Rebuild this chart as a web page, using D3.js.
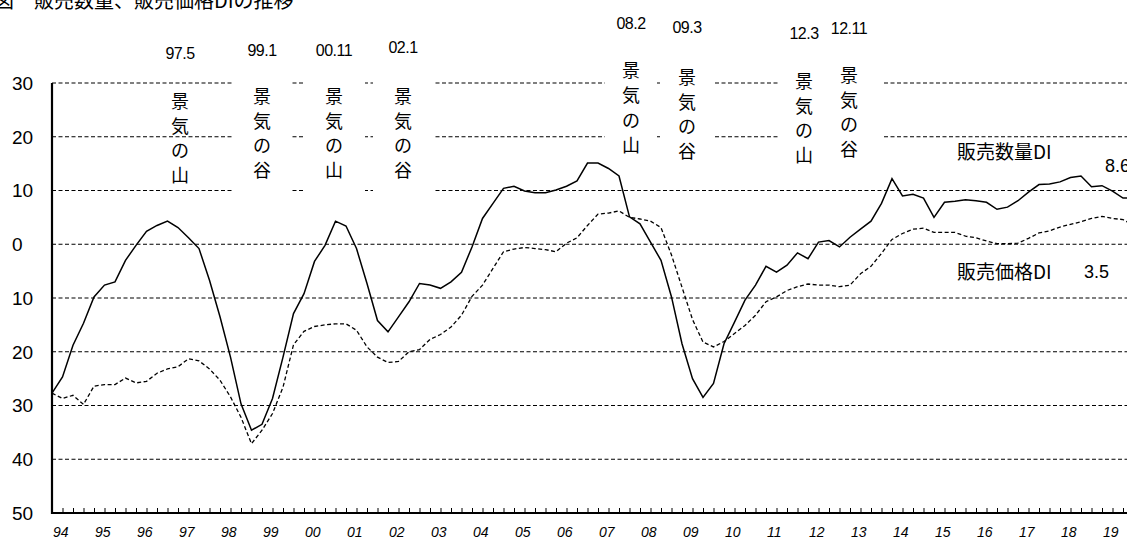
<!DOCTYPE html>
<html>
<head>
<meta charset="utf-8">
<script src="https://cdn.jsdelivr.net/npm/d3@7/dist/d3.min.js"></script>
<style>
  body { margin: 0; background: #fff; }
  svg { display: block; font-family: "Liberation Sans", Arial, sans-serif; }
  .jp { font-family: "Noto Sans CJK JP", sans-serif; }
</style>
</head>
<body>
<div id="chart"></div>
<script>
// quarterly data, 1994Q1 - 2019Q4
var years = ["94","95","96","97","98","99","00","01","02","03","04","05","06",
             "07","08","09","10","11","12","13","14","15","16","17","18","19"];

var qtyDI = [-27.7,-24.7,-18.8,-14.7, -9.8,-7.6,-7.0,-3.0, -0.2,2.4,3.5,4.3, 3.1,1.2,-0.8,-6.7,
             -13.5,-21.0,-29.7,-34.6, -33.5,-28.7,-21.0,-12.9, -9.2,-3.2,-0.2,4.3, 3.4,-0.8,-7.3,-14.2,
             -16.3,-13.5,-10.7,-7.3, -7.6,-8.2,-7.0,-5.2, -0.5,4.8,7.6,10.4, 10.8,9.9,9.6,9.6,
             10.1,10.8,11.8,15.1, 15.1,14.1,12.7,5.1, 3.8,0.4,-3.0,-9.8, -18.5,-25.0,-28.5,-25.9,
             -18.5,-14.5,-10.4,-7.6, -4.1,-5.2,-3.9,-1.6, -2.7,0.4,0.7,-0.5, 1.3,2.8,4.3,7.6,
             12.2,9.0,9.3,8.6, 5.0,7.8,8.0,8.3, 8.1,7.8,6.5,6.9, 8.1,9.7,11.1,11.2,
             11.6,12.4,12.7,10.7, 10.9,9.9,8.6,8.6];

var priceDI = [-27.7,-28.7,-28.1,-29.8, -26.4,-26.1,-26.1,-24.9, -25.8,-25.5,-24.0,-23.2, -22.8,-21.3,-21.7,-23.2,
               -25.3,-28.4,-32.2,-37.1, -34.6,-31.5,-26.6,-18.7, -16.2,-15.3,-15.0,-14.8, -14.8,-16.0,-19.1,-21.0,
               -22.0,-21.8,-20.0,-19.6, -17.7,-16.8,-15.4,-13.2, -9.7,-7.6,-4.5,-1.4, -0.9,-0.6,-0.8,-1.0,
               -1.4,0.2,1.2,3.5, 5.6,5.8,6.2,5.0, 4.7,4.3,3.1,-2.0, -8.0,-14.0,-18.2,-19.1,
               -18.1,-16.6,-15.1,-13.2, -10.7,-9.8,-8.6,-7.9, -7.4,-7.6,-7.6,-7.9, -7.6,-5.5,-4.1,-1.7,
               0.9,2.0,2.8,3.0, 2.2,2.2,2.2,1.5, 1.2,0.6,0.1,0.1, 0.2,1.1,2.1,2.5,
               3.2,3.7,4.2,4.8, 5.2,4.8,4.6,3.5];

var yTicks = [30, 20, 10, 0, -10, -20, -30, -40, -50];
var yTickLabels = ["30","20","10","0","10","20","30","40","50"];

var cycleDates = ["97.5","99.1","00.11","02.1","08.2","09.3","12.3","12.11"];
var cycleTypes = ["山","谷","山","谷","山","谷","山","谷"];

var seriesNames = ["販売数量DI", "販売価格DI"];
var lastValues  = ["8.6", "3.5"];
var chartTitle  = "図　販売数量、販売価格DIの推移";

var width = 1127, height = 541;
var svg = d3.select("#chart").append("svg")
    .attr("width", width)
    .attr("height", height);

var x = d3.scaleLinear().domain([0, qtyDI.length - 1]).range([52, 52 + (qtyDI.length - 1) * 10.5]);
var y = d3.scaleLinear().domain([-50, 30]).range([513, 83]);

// horizontal dashed grid
svg.append("g").selectAll("line")
  .data(yTicks.filter(d => d > -50)).enter()
  .append("line")
    .attr("x1", 52).attr("x2", width)
    .attr("y1", d => y(d)).attr("y2", d => y(d))
    .attr("stroke", "#000")
    .attr("stroke-width", 1.2)
    .attr("stroke-dasharray", "4,2.5");

// label boxes (white ones hide the grid), text columns for the business cycle
var annoLayout = [
  {lx: 180, ly: 53, cy: 102, step: 24.5, box: null},
  {lx: 262, ly: 50, cy: 97,  step: 24.5, box: [232, 292, 40, 200]},
  {lx: 334, ly: 50, cy: 97,  step: 24.5, box: [305, 365, 40, 200]},
  {lx: 403, ly: 47, cy: 97,  step: 24.5, box: [373, 435, 40, 200]},
  {lx: 631, ly: 23, cy: 71,  step: 25,   box: [605, 657, 15, 170]},
  {lx: 687, ly: 27, cy: 78,  step: 24.5, box: [660, 713, 15, 170]},
  {lx: 804, ly: 33, cy: 82,  step: 24.5, box: [778, 828, 15, 170]},
  {lx: 849, ly: 28, cy: 76,  step: 24.5, box: [828, 882, 15, 170]}
];

svg.append("g").selectAll("rect")
  .data(annoLayout.filter(d => d.box)).enter()
  .append("rect")
    .attr("x", d => d.box[0]).attr("width", d => d.box[1] - d.box[0])
    .attr("y", d => d.box[2]).attr("height", d => d.box[3] - d.box[2])
    .attr("fill", "#fff");

// series
var line = d3.line()
    .x((d, i) => x(i))
    .y(d => y(d));

svg.append("path")
    .datum(priceDI)
    .attr("d", line)
    .attr("fill", "none")
    .attr("stroke", "#000")
    .attr("stroke-width", 1.3)
    .attr("stroke-dasharray", "4,2.5");

svg.append("path")
    .datum(qtyDI)
    .attr("d", line)
    .attr("fill", "none")
    .attr("stroke", "#000")
    .attr("stroke-width", 1.5);

// axes
var xAxis = d3.axisBottom(x)
    .tickValues(d3.range(0, qtyDI.length))
    .tickSize(-5)
    .tickFormat("");

var gx = svg.append("g")
    .attr("transform", "translate(0," + y(-50) + ")")
    .call(xAxis);
gx.select(".domain").remove();
gx.selectAll(".tick line").attr("stroke", "#000").attr("stroke-width", 1);

svg.append("line")
    .attr("x1", 51).attr("x2", width)
    .attr("y1", y(-50)).attr("y2", y(-50))
    .attr("stroke", "#000").attr("stroke-width", 2.2);

svg.append("line")
    .attr("x1", 52).attr("x2", 52)
    .attr("y1", y(30)).attr("y2", y(-50) + 1)
    .attr("stroke", "#000").attr("stroke-width", 2.2);

svg.append("g").selectAll("text")
  .data(years).enter()
  .append("text")
    .attr("x", (d, i) => x(i * 4) + 1)
    .attr("y", 537)
    .attr("font-size", 14)
    .attr("font-style", "italic")
    .text(d => d);

svg.append("g").selectAll("text")
  .data(yTicks).enter()
  .append("text")
    .attr("x", 12)
    .attr("y", d => y(d))
    .attr("dy", "0.36em")
    .attr("font-size", 19)
    .text((d, i) => yTickLabels[i]);

// cycle labels
var gAnno = svg.append("g");
cycleDates.forEach(function(date, i){
  var a = annoLayout[i];
  gAnno.append("text")
      .attr("x", a.lx).attr("y", a.ly)
      .attr("dy", "0.36em")
      .attr("text-anchor", "middle")
      .attr("font-size", 16)
      .attr("letter-spacing", -0.5)
      .text(date);
  ["景", "気", "の", cycleTypes[i]].forEach(function(ch, j){
    gAnno.append("text")
        .attr("class", "jp")
        .attr("x", a.lx).attr("y", a.cy + j * a.step)
        .attr("dy", "0.36em")
        .attr("text-anchor", "middle")
        .attr("font-size", 18)
        .text(ch);
  });
});

// series names and last values
svg.append("text").attr("class", "jp")
    .attr("x", 957).attr("y", 152).attr("dy", "0.36em")
    .attr("font-size", 19).text(seriesNames[0]);
svg.append("text")
    .attr("x", 1105).attr("y", 166).attr("dy", "0.36em")
    .attr("font-size", 18).text(lastValues[0]);
svg.append("text").attr("class", "jp")
    .attr("x", 957).attr("y", 272).attr("dy", "0.36em")
    .attr("font-size", 19).text(seriesNames[1]);
svg.append("text")
    .attr("x", 1084).attr("y", 272).attr("dy", "0.36em")
    .attr("font-size", 18).text(lastValues[1]);

// title (cut at the top edge like the source)
svg.append("text").attr("class", "jp")
    .attr("x", -6).attr("y", 8)
    .attr("font-size", 20)
    .text(chartTitle);
</script>
</body>
</html>
